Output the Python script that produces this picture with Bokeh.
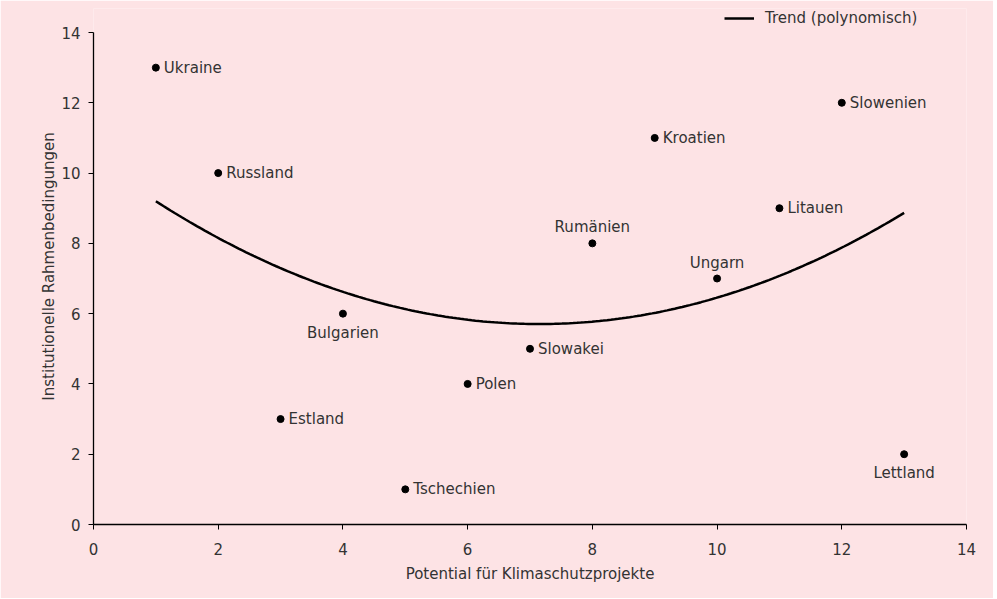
import numpy as np
from bokeh.plotting import figure
from bokeh.models import ColumnDataSource, Range1d, Legend, LegendItem, FixedTicker
from bokeh.core.properties import value
from bokeh.embed import file_html
from bokeh.resources import INLINE

# ---- data ----
countries = ["Ukraine", "Russland", "Estland", "Bulgarien", "Tschechien", "Polen", "Slowakei",
             "Rumänien", "Kroatien", "Ungarn", "Litauen", "Slowenien", "Lettland"]
potential = [1, 2, 3, 4, 5, 6, 7, 8, 9, 10, 11, 12, 13]
rahmen = [13, 10, 3, 6, 1, 4, 5, 8, 11, 7, 9, 12, 2]
label_side = ["right", "right", "right", "below", "right", "right", "right",
              "above", "right", "above", "right", "right", "below"]
ticks = [0, 2, 4, 6, 8, 10, 12, 14]

FONT = "DejaVu Sans"
BG = "#fde3e5"
TXT = "#333333"

# quadratic trend (least squares fit of the data)
coef = np.polyfit(potential, rahmen, 2)
tx = np.linspace(min(potential), max(potential), 200)
ty = np.polyval(coef, tx)

# frame extends above the y axis top (14) to leave room for the legend
p = figure(width=993, height=598, output_backend="svg", toolbar_location=None,
           x_range=Range1d(0, 14), y_range=Range1d(0, 14 + 24 / 35.14),
           background_fill_color=BG, border_fill_color=BG,
           min_border_left=93, min_border_right=27, min_border_top=8, min_border_bottom=74)
p.outline_line_color = None
p.grid.grid_line_color = None

for ax in (p.xaxis[0], p.yaxis[0]):
    ax.ticker = FixedTicker(ticks=ticks)
    ax.bounds = (0, 14)
    ax.axis_line_color = "black"
    ax.axis_line_width = 1.3
    ax.major_tick_line_color = "black"
    ax.major_tick_out = 5
    ax.major_tick_in = 0
    ax.minor_tick_line_color = None
    ax.major_label_text_font = FONT
    ax.major_label_text_font_size = "15px"
    ax.major_label_text_color = TXT
    ax.axis_label_text_font = FONT
    ax.axis_label_text_font_size = "15px"
    ax.axis_label_text_font_style = "normal"
    ax.axis_label_text_color = TXT

p.xaxis.axis_label = "Potential für Klimaschutzprojekte"
p.yaxis.axis_label = "Institutionelle Rahmenbedingungen"
p.xaxis.major_label_standoff = 13
p.yaxis.major_label_standoff = 8
p.xaxis.axis_label_standoff = 7
p.yaxis.axis_label_standoff = 0

trend = p.line(tx, ty, line_color="black", line_width=2.5)

p.scatter(potential, rahmen, size=7, color="black")

xo, yo, al, bl = [], [], [], []
for s in label_side:
    if s == "right":
        xo.append(8); yo.append(0); al.append("left"); bl.append("middle")
    elif s == "above":
        xo.append(0); yo.append(-16); al.append("center"); bl.append("middle")
    else:
        xo.append(0); yo.append(19); al.append("center"); bl.append("middle")

src = ColumnDataSource(dict(x=potential, y=rahmen, t=countries, xo=xo, yo=yo, al=al, bl=bl))
p.text(x="x", y="y", text="t", source=src, x_offset="xo", y_offset="yo",
       text_align="al", text_baseline="bl", text_font=value(FONT),
       text_font_size="15px", text_color=TXT)

legend = Legend(items=[LegendItem(label="Trend (polynomisch)", renderers=[trend])],
                location=(631, 497), padding=0, spacing=0, margin=0,
                glyph_width=30, glyph_height=16, label_height=16, label_standoff=11,
                label_text_font=FONT, label_text_font_size="15px", label_text_color=TXT,
                background_fill_alpha=0, border_line_color=None)
p.add_layout(legend, "center")

open("out.html", "w").write(file_html(p, INLINE))
